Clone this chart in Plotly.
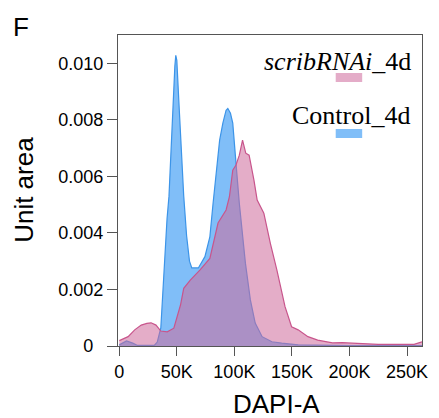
import plotly.graph_objects as go

# ---- data ----
control_x = [0, 6300, 11700, 15900, 30400, 33000, 36100, 38900, 41500, 43200, 44900, 46600,
             48300, 49100, 50000, 51700, 53400, 56000, 58500, 61000, 63000, 68700, 74400,
             78700, 81500, 84300, 87200, 90000, 92800, 94300, 96600, 98600, 100000, 101400,
             104300, 107100, 109600, 113900, 118100, 124100, 132600, 141100, 155400, 200000, 263000]
control_y = [0.00004, 0.00018, 0.0001, 0.00002, 0.00002, 0.00014, 0.00064, 0.0027, 0.0045, 0.0053,
             0.0069, 0.0087, 0.0099, 0.01028, 0.0101, 0.0087, 0.0073, 0.0053, 0.0039, 0.0030,
             0.00276, 0.00276, 0.00316, 0.00386, 0.00505, 0.00611, 0.00728, 0.00788, 0.00834,
             0.0084, 0.00823, 0.00788, 0.00704, 0.00647, 0.00505, 0.00386, 0.00293, 0.00163,
             0.00081, 0.00033, 0.00015, 0.0001, 0.00004, 0.00001, 0.00001]

scrib_x = [0, 7700, 13400, 19100, 24000, 27600, 31900, 36100, 41700, 47400, 53200, 56000, 61700,
           70200, 78700, 85800, 92800, 95700, 98600, 101400, 104300, 107100, 109900, 112800,
           117000, 119800, 125600, 131200, 136900, 144000, 149700, 155400, 163900, 172400,
           185200, 193700, 202200, 224900, 256100, 263000]
scrib_y = [0.00019, 0.00033, 0.00057, 0.00074, 0.0008, 0.00082, 0.00074, 0.00053, 0.0005, 0.00063,
           0.00145, 0.00204, 0.00233, 0.00269, 0.0031, 0.00435, 0.00481, 0.00528, 0.00622, 0.0064,
           0.00675, 0.00728, 0.00682, 0.00675, 0.00587, 0.00516, 0.0047, 0.00364, 0.00269,
           0.00139, 0.00068, 0.00057, 0.00033, 0.00021, 0.00011, 0.00012, 0.0001, 0.00006,
           0.00006, 0.00015]

x_tickvals = [0, 50000, 100000, 150000, 200000, 250000]
x_ticktext = ["0", "50K", "100K", "150K", "200K", "250K"]
y_tickvals = [0, 0.002, 0.004, 0.006, 0.008, 0.010]
y_ticktext = ["0\u00a0\u00a0", "0.002", "0.004", "0.006", "0.008", "0.010"]

BLUE_FILL = "rgb(128,190,248)"
BLUE_LINE = "rgb(60,148,232)"
PINK_FILL = "rgba(205,105,155,0.55)"
PINK_LINE = "rgb(200,85,140)"

fig = go.Figure()
fig.add_trace(go.Scatter(x=control_x, y=control_y, mode="lines", fill="tozeroy",
                         fillcolor=BLUE_FILL, line=dict(color=BLUE_LINE, width=1.2),
                         name="Control_4d", showlegend=False))
fig.add_trace(go.Scatter(x=scrib_x, y=scrib_y, mode="lines", fill="tozeroy",
                         fillcolor=PINK_FILL, line=dict(color=PINK_LINE, width=1.2),
                         name="scribRNAi_4d", showlegend=False))

# the page adds an 8px body margin, so lay out in window pixels minus 8
OFF = 8
W, H = 439 - OFF, 418 - OFF
L, R, T, B = 118 - OFF, 11, 35 - OFF, 72
pw, ph = W - L - R, H - T - B

def px(x):
    return (x - OFF - L) / pw

def py(y):
    return (H - B - (y - OFF)) / ph

fig.update_layout(
    width=W, height=H,
    margin=dict(l=L, r=R, t=T, b=B),
    plot_bgcolor="white", paper_bgcolor="white",
    font=dict(family="Liberation Sans, Arial, sans-serif", color="black", size=18),
    xaxis=dict(range=[-1100, 263000], tickvals=x_tickvals, ticktext=x_ticktext,
               showline=True, mirror=True, linecolor="#555", linewidth=1.3,
               ticks="outside", ticklen=9, tickwidth=1.3, tickcolor="#555",
               showgrid=False, zeroline=False, tickfont=dict(size=18)),
    yaxis=dict(range=[0, 0.011], tickvals=y_tickvals, ticktext=y_ticktext,
               showline=True, mirror=True, linecolor="#555", linewidth=1.3,
               ticks="outside", ticklen=10, tickwidth=1.3, tickcolor="#555",
               showgrid=False, zeroline=False, tickfont=dict(size=18)),
    shapes=[
        dict(type="rect", xref="paper", yref="paper", x0=px(340), x1=px(367), y0=py(82), y1=py(73),
             fillcolor="rgb(228,172,200)", line=dict(width=0)),
        dict(type="rect", xref="paper", yref="paper", x0=px(340), x1=px(367), y0=py(138), y1=py(129),
             fillcolor="rgb(128,190,248)", line=dict(width=0)),
    ],
    annotations=[
        dict(text="<i>scribRNAi</i>_4d", xref="paper", yref="paper", x=px(419), y=py(61),
             xanchor="right", yanchor="middle", showarrow=False,
             font=dict(family="Liberation Serif, Times New Roman, serif", size=26)),
        dict(text="Control_4d", xref="paper", yref="paper", x=px(418), y=py(116),
             xanchor="right", yanchor="middle", showarrow=False,
             font=dict(family="Liberation Serif, Times New Roman, serif", size=26)),
        dict(text="Unit area", xref="paper", yref="paper", x=px(22), y=py(190),
             xanchor="center", yanchor="middle", textangle=-90, showarrow=False,
             font=dict(size=26)),
        dict(text="DAPI-A", xref="paper", yref="paper", x=px(280), y=py(404),
             xanchor="center", yanchor="middle", showarrow=False,
             font=dict(size=26)),
        dict(text="F", xref="paper", yref="paper", x=px(19), y=py(27),
             xanchor="center", yanchor="middle", showarrow=False,
             font=dict(size=26)),
    ],
)

fig.write_html("out.html")
